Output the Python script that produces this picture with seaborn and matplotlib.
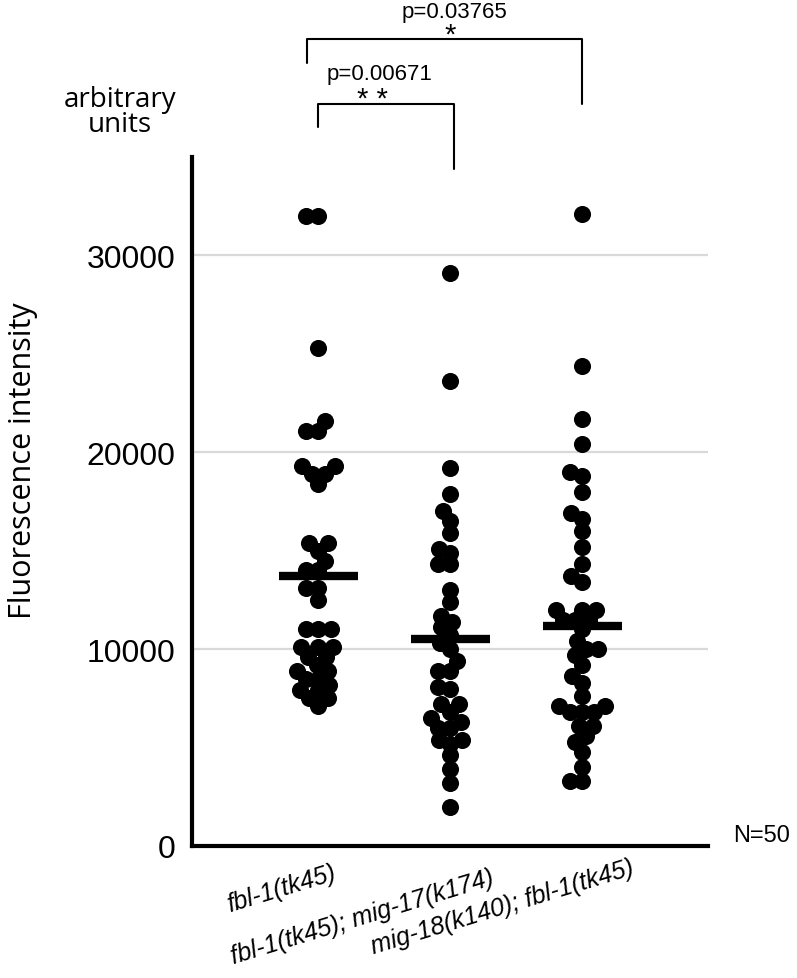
import numpy as np
import pandas as pd
import matplotlib
matplotlib.use("Agg")
import matplotlib.pyplot as plt
import seaborn as sns

strains = ["fbl-1(tk45)", "fbl-1(tk45); mig-17(k174)", "mig-18(k140); fbl-1(tk45)"]

fbl1 = [32000, 32000, 25300, 21600, 21100, 21100, 19300, 19300, 18900, 18900,
        18400, 15400, 15400, 15000, 14500, 14000, 14000, 13100, 13100, 12500,
        11000, 11000, 11000, 10100, 10100, 10100, 9600, 9600, 9200, 8900,
        8900, 8500, 8500, 8200, 7900, 7900, 7500, 7500, 7100]
fbl1_mig17 = [29100, 23600, 19200, 17900, 17000, 16500, 15900, 15100, 14900, 14300,
              14300, 13000, 12400, 11700, 11400, 11100, 10700, 10300, 10000, 9400,
              8900, 8900, 8100, 8000, 7200, 7200, 6800, 6500, 6300, 6000,
              6000, 5400, 5400, 5200, 4600, 3900, 3200, 2000]
mig18_fbl1 = [32100, 24400, 21700, 20400, 19000, 18800, 18000, 16900, 16600, 16000,
              15200, 14300, 13700, 13400, 12000, 12000, 12000, 11500, 11500, 11500,
              11000, 10400, 10000, 10000, 9700, 9200, 8650, 8300, 7600, 7100,
              7100, 6800, 6800, 6800, 6100, 6100, 5600, 5300, 4800, 4000,
              3300, 3300]

medians = [13700, 10500, 11200]
yticks = [0, 10000, 20000, 30000]

df = pd.DataFrame({
    "strain": [strains[0]] * len(fbl1) + [strains[1]] * len(fbl1_mig17) + [strains[2]] * len(mig18_fbl1),
    "value": fbl1 + fbl1_mig17 + mig18_fbl1,
})

sns.set_style("white")
plt.rcParams["font.family"] = ["Liberation Sans", "DejaVu Sans"]
plt.rcParams["text.color"] = "black"
plt.rcParams["ytick.labelcolor"] = "black"

W, H = 797, 979
fig = plt.figure(figsize=(W / 100, H / 100), dpi=100)
ax = fig.add_axes([192 / W, 1 - 847 / H, (708 - 192) / W, (847 - 158) / H])

sns.swarmplot(data=df, x="strain", y="value", order=strains, color="black",
              size=8.5, ax=ax, zorder=3)
ax.set_xlim(-0.96, 2.956)
ax.set_ylim(0, 35000)

# freeze swarm positions, then enlarge dots so they overlap like the original
fig.canvas.draw()
for c in ax.collections:
    c.__dict__.pop("draw", None)
    c.set_sizes([12.3 ** 2])

x = np.arange(len(strains))
ax.hlines(medians, x - 0.3, x + 0.3, colors="black", lw=6, zorder=4)

ax.set_yticks(yticks)
ax.set_yticklabels([str(v) for v in yticks], fontsize=23)
ax.tick_params(axis="y", length=0, pad=12)
ax.tick_params(axis="x", length=0)
ax.set_xticklabels([])
ax.set_xlabel("")
ax.set_ylabel("")
ax.yaxis.grid(True, color="#d9d9d9", lw=1.6)
ax.set_axisbelow(True)
sns.despine(ax=ax)
for s in ["left", "bottom"]:
    ax.spines[s].set_linewidth(3)
    ax.spines[s].set_color("black")

# rotated italic strain names
for name, (px, py) in zip(strains, [(337, 879), (495, 884), (635, 874)]):
    fig.text(px / W, 1 - py / H, name, fontsize=18, style="italic", rotation=17,
             rotation_mode="anchor", ha="right", va="baseline")

fig.text(23 / W, 1 - 461 / H, "Fluorescence intensity", rotation=90, fontsize=22,
         family=["Open Sans", "DejaVu Sans"], ha="center", va="center")
fig.text(120 / W, 1 - 86 / H, "arbitrary\nunits", fontsize=20, linespacing=0.87,
         family=["Open Sans", "DejaVu Sans"], ha="center", va="top")
fig.text(733 / W, 1 - 842 / H, "N=50", fontsize=17, va="baseline")

# significance brackets
kw = dict(color="black", lw=1.5, clip_on=False)
ax.plot([0, 0, 1.03, 1.03], [36500, 37700, 37700, 34400], **kw)
ax.plot([-0.09, -0.09, 2.0, 2.0], [39800, 41000, 41000, 37700], **kw)
ax.text(0.46, 38960, "p=0.00671", fontsize=16, ha="center", va="baseline")
ax.text(0.41, 37550, "* *", fontsize=21, ha="center", va="baseline")
ax.text(1.03, 42100, "p=0.03765", fontsize=16, ha="center", va="baseline")
ax.text(1.0, 40800, "*", fontsize=21, ha="center", va="baseline")

fig.savefig("out.png", dpi=100)
